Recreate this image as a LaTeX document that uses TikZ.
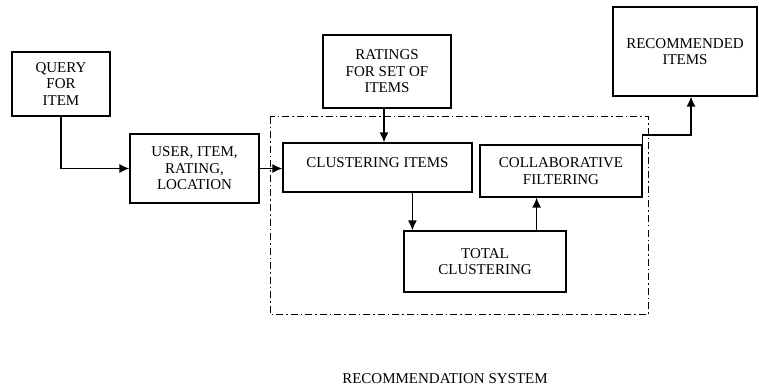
\documentclass[tikz,border=0pt]{standalone}
\usepackage{fontspec}
\setmainfont{Liberation Serif}
\usepackage{tikz}
\usetikzlibrary{arrows.meta, calc}

\begin{document}
\begin{tikzpicture}[x=1pt, y=-1pt, >={Latex[length=10pt,width=9pt]}, semithick]
\tikzstyle{block}=[draw=black, line width=1.2pt, fill=white, align=center,
  font=\fontsize{15}{16.5}\selectfont, inner sep=2pt]
\tikzstyle{flow}=[line width=1.3pt, ->]

\useasboundingbox (0,0) rectangle (759,387);

% system boundary
\draw[line width=1pt, dash pattern=on 7pt off 3pt on 1.5pt off 3pt] (270,117) rectangle (648,314);

\node[block, minimum width=98pt, minimum height=64pt] (query) at (61,84) {QUERY\\FOR\\ITEM};
\node[block, minimum width=129pt, minimum height=69pt] (user) at (194.5,168.5) {USER, ITEM,\\RATING,\\LOCATION};
\node[block, minimum width=128pt, minimum height=73pt] (ratings) at (387,71.5) {RATINGS\\FOR SET OF\\ITEMS};
\node[block, minimum width=189pt, minimum height=49pt, text depth=9pt] (cluster) at (377.5,167.5) {CLUSTERING ITEMS};
\node[block, minimum width=162pt, minimum height=52pt] (collab) at (561,171) {COLLABORATIVE\\FILTERING};
\node[block, minimum width=162pt, minimum height=61pt] (total) at (485,261.5) {TOTAL\\CLUSTERING};
\node[block, minimum width=144pt, minimum height=89pt] (recom) at (685,51.5) {RECOMMENDED\\ITEMS};
\node[font=\fontsize{15}{16.5}\selectfont] (caption) at (445,379) {RECOMMENDATION SYSTEM};

\coordinate (turn) at (691,135);

\draw[flow] (query.south) |- (user.west);
\draw[flow] (user.east) -- (user.east -| cluster.west);
\draw[flow] ([xshift=-3pt]ratings.south) -- ([xshift=-3pt]ratings.south |- cluster.north);
\draw[flow] ([xshift=9pt]total.north west |- cluster.south) -- ([xshift=9pt]total.north west);
\draw[flow] ([xshift=-30pt]total.north east) -- ([xshift=-30pt]total.north east |- collab.south);
\draw[flow] (collab.north east) |- (turn) -- (turn |- recom.south);
\end{tikzpicture}
\end{document}
